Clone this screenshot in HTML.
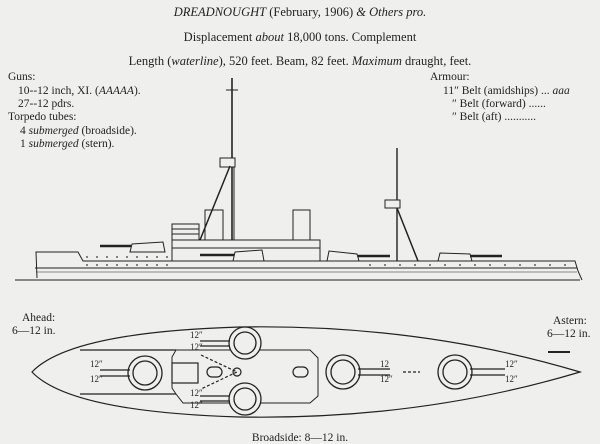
<!DOCTYPE html><html><head><style>body{margin:0;background:#efefed}svg{display:block}text{font-family:"Liberation Serif",serif;fill:#222}</style></head><body>
<svg width="600" height="444" viewBox="0 0 600 444" xmlns="http://www.w3.org/2000/svg">
<rect width="600" height="444" fill="#efefed"/>
<g font-size="12.5" text-anchor="middle">
<text x="300" y="16"><tspan font-style="italic">DREADNOUGHT</tspan> (February, 1906) <tspan font-style="italic">&amp; Others pro.</tspan></text>
<text x="300" y="41">Displacement <tspan font-style="italic">about</tspan> 18,000 tons.  Complement</text>
<text x="300" y="65">Length (<tspan font-style="italic">waterline</tspan>), 520 feet.  Beam, 82 feet.  <tspan font-style="italic">Maximum</tspan> draught,          feet.</text>
</g>
<g font-size="11.5">
<text x="8" y="80">Guns:</text>
<text x="18" y="94">10--12 inch, XI. (<tspan font-style="italic">AAAAA</tspan>).</text>
<text x="18" y="107">27--12 pdrs.</text>
<text x="8" y="120">Torpedo tubes:</text>
<text x="20" y="134">4 <tspan font-style="italic">submerged</tspan> (broadside).</text>
<text x="20" y="147">1 <tspan font-style="italic">submerged</tspan> (stern).</text>
<text x="430" y="80">Armour:</text>
<text x="443" y="94">11″ Belt (amidships)  ... <tspan font-style="italic">aaa</tspan></text>
<text x="452" y="107">″ Belt (forward)  ......</text>
<text x="452" y="120">″ Belt (aft)   ...........</text>
<text x="22" y="321">Ahead:</text>
<text x="12" y="334">6—12 in.</text>
<text x="553" y="324">Astern:</text>
<text x="547" y="337">6—12 in.</text>
<text x="300" y="441" text-anchor="middle">Broadside: 8—12 in.</text>
</g>
<g stroke="#222" fill="none" stroke-width="1">
<path d="M15 280 L580 280"/>
<path d="M37 278 L36 252 L78 252 L83 261 L575 261 L578 271 L582 280"/>
<path d="M35 268 L577 268"/>
<path d="M36 272 L577 272" stroke-width="0.6"/>
<rect x="172" y="240" width="148" height="21" fill="#efefed"/>
<rect x="172" y="224" width="27" height="16" fill="#efefed"/>
<line x1="172" y1="229" x2="199" y2="229"/><line x1="172" y1="234" x2="199" y2="234"/>
<rect x="205" y="210" width="18" height="30" fill="#efefed"/>
<rect x="293" y="210" width="17" height="30" fill="#efefed"/>
<line x1="172" y1="248" x2="320" y2="248"/>
<line x1="232" y1="78" x2="232" y2="240" stroke-width="1.6"/>
<line x1="234" y1="165" x2="234" y2="240"/>
<line x1="226" y1="90" x2="238" y2="90"/>
<rect x="220" y="158" width="15" height="9" fill="#efefed"/>
<line x1="230" y1="166" x2="200" y2="240" stroke-width="1.5"/>
<line x1="397" y1="148" x2="397" y2="261" stroke-width="1.4"/>
<rect x="385" y="200" width="15" height="8" fill="#efefed"/>
<line x1="397" y1="208" x2="418" y2="261" stroke-width="1.5"/>
<path d="M130 252 L132 244 L163 242 L165 252 Z" fill="#efefed"/>
<path d="M233 261 L235 252 L262 250 L264 261 Z" fill="#efefed"/>
<path d="M327 261 L329 251 L357 254 L359 261 Z" fill="#efefed"/>
<path d="M438 261 L440 253 L470 254 L472 261 Z" fill="#efefed"/>
<g stroke-width="2.5"><line x1="100" y1="246" x2="131" y2="246"/><line x1="200" y1="255" x2="234" y2="255"/><line x1="358" y1="256" x2="390" y2="256"/><line x1="470" y1="256" x2="502" y2="256"/></g>
</g>
<g fill="#333">
<circle cx="87" cy="257" r="0.9"/><circle cx="97" cy="257" r="0.9"/><circle cx="107" cy="257" r="0.9"/><circle cx="117" cy="257" r="0.9"/><circle cx="127" cy="257" r="0.9"/><circle cx="137" cy="257" r="0.9"/><circle cx="147" cy="257" r="0.9"/><circle cx="157" cy="257" r="0.9"/><circle cx="167" cy="257" r="0.9"/>
<circle cx="87" cy="265" r="0.9"/><circle cx="97" cy="265" r="0.9"/><circle cx="107" cy="265" r="0.9"/><circle cx="117" cy="265" r="0.9"/><circle cx="127" cy="265" r="0.9"/><circle cx="137" cy="265" r="0.9"/><circle cx="147" cy="265" r="0.9"/><circle cx="157" cy="265" r="0.9"/><circle cx="167" cy="265" r="0.9"/>
<circle cx="370" cy="265" r="0.9"/><circle cx="385" cy="265" r="0.9"/><circle cx="400" cy="265" r="0.9"/><circle cx="415" cy="265" r="0.9"/><circle cx="430" cy="265" r="0.9"/><circle cx="445" cy="265" r="0.9"/><circle cx="460" cy="265" r="0.9"/><circle cx="475" cy="265" r="0.9"/><circle cx="490" cy="265" r="0.9"/><circle cx="505" cy="265" r="0.9"/><circle cx="520" cy="265" r="0.9"/><circle cx="535" cy="265" r="0.9"/><circle cx="550" cy="265" r="0.9"/><circle cx="565" cy="265" r="0.9"/>
</g>
<g stroke="#222" fill="none" stroke-width="1.2">
<path d="M32 372 Q70 332 240 327 Q420 324 580 372 Q420 420 240 417 Q70 412 32 372 Z"/>
<path d="M80 350 L176 350 M80 394 L176 394"/>
<path d="M176 350 L310 350 L318 358 L318 396 L310 403 L183 403 L176 394 L172 388 L172 357 Z" stroke-width="1"/>
<rect x="172" y="363" width="26" height="20"/>
<rect x="207" y="367" width="15" height="10" rx="5"/>
<rect x="293" y="367" width="15" height="10" rx="5"/>
<path d="M201 355 L237 372 L201 389" stroke-dasharray="3 2"/>
<circle cx="237" cy="372" r="4"/>
<path d="M403 372 L420 372" stroke-dasharray="3 2"/>
<g fill="#efefed" stroke-width="1.3">
<circle cx="145" cy="373" r="17"/><circle cx="145" cy="373" r="12"/>
<circle cx="245" cy="343" r="16"/><circle cx="245" cy="343" r="11"/>
<circle cx="245" cy="399" r="16"/><circle cx="245" cy="399" r="11"/>
<circle cx="343" cy="372" r="17"/><circle cx="343" cy="372" r="12"/>
<circle cx="455" cy="372" r="17"/><circle cx="455" cy="372" r="12"/>
</g>
<g stroke-width="1.3">
<line x1="100" y1="370" x2="130" y2="370"/><line x1="100" y1="376" x2="130" y2="376"/>
<line x1="200" y1="341" x2="230" y2="341"/><line x1="200" y1="346" x2="230" y2="346"/>
<line x1="200" y1="396" x2="230" y2="396"/><line x1="200" y1="401" x2="230" y2="401"/>
<line x1="358" y1="369" x2="390" y2="369"/><line x1="358" y1="375" x2="390" y2="375"/>
<line x1="470" y1="369" x2="505" y2="369"/><line x1="470" y1="375" x2="505" y2="375"/>
</g>
<line x1="548" y1="352" x2="570" y2="352" stroke-width="2"/>
</g>
<g font-size="9" fill="#222">
<text x="90" y="367">12″</text><text x="90" y="382">12″</text>
<text x="190" y="338">12″</text><text x="190" y="350">12″</text>
<text x="190" y="396">12″</text><text x="190" y="408">12″</text>
<text x="380" y="367">12</text><text x="380" y="382">12″</text>
<text x="505" y="367">12″</text><text x="505" y="382">12″</text>
</g>
</svg>
</body></html>
